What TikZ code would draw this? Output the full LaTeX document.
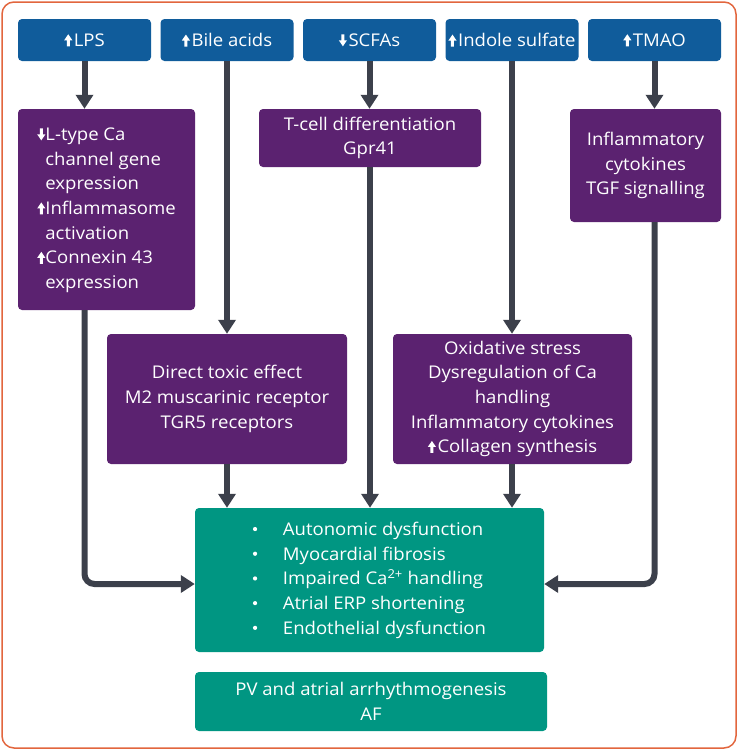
\documentclass[tikz,border=0pt]{standalone}
\usepackage{fontspec}
\setmainfont{Open Sans}[FakeStretch=1.06]
\usetikzlibrary{arrows.meta}
\definecolor{cblue}{HTML}{105C9B}
\definecolor{cpurple}{HTML}{5B2270}
\definecolor{cgreen}{HTML}{009682}
\definecolor{cline}{HTML}{3C404B}
\definecolor{cframe}{HTML}{E2663E}
\newcommand\upa{\tikz[baseline=0pt,x=1pt,y=1pt,sharp corners]\fill[white] (2.6,0)--(5.6,0)--(5.6,6)--(8.2,6)--(4.1,12)--(0,6)--(2.6,6)--cycle;\hspace{1.5pt}}
\newcommand\dna{\tikz[baseline=0pt,x=1pt,y=1pt,sharp corners]\fill[white] (2.6,12)--(5.6,12)--(5.6,6)--(8.2,6)--(4.1,0)--(0,6)--(2.6,6)--cycle;\hspace{1.5pt}}
\newcommand\bul{\tikz[baseline=0pt,x=1pt,y=1pt]\fill[white] (2.2,6.5) circle (2.1);}
\begin{document}
\begin{tikzpicture}[x=1pt,y=-1pt,
  box/.style={rounded corners=4pt, text=white, align=center, inner sep=0pt,
    font=\fontsize{17.5}{24.7}\selectfont},
  topbox/.style={box, fill=cblue, minimum width=133, minimum height=42},
  midbox/.style={box, fill=cpurple},
  endbox/.style={box, fill=cgreen},
  conn/.style={draw=cline, line width=6pt, -{Triangle[width=17pt,length=14pt]}}]
\useasboundingbox (0,0) rectangle (738,750);
\draw[cframe, line width=1.5pt, rounded corners=12pt] (2,2) rectangle (736,748);

% top row
\node[topbox] (lps)    at (84.5,40)  {\upa LPS};
\node[topbox] (bile)   at (227,40)   {\upa Bile acids};
\node[topbox] (scfa)   at (369.5,40) {\dna SCFAs};
\node[topbox] (indole) at (512,40)   {\upa Indole sulfate};
\node[topbox] (tmao)   at (654.5,40) {\upa TMAO};

% middle boxes
\node[midbox, minimum width=177, minimum height=201] (box1) at (106.5,209.5)
  {\begin{tabular}{@{}l@{}l@{}}
   \dna & L-type Ca\\
        & channel gene\\
        & expression\\
   \upa & Inflammasome\\
        & activation\\
   \upa & Connexin 43\\
        & expression
   \end{tabular}};
\node[midbox, minimum width=222, minimum height=58] (tcell) at (370,138)
  {T-cell differentiation\\Gpr41};
\node[midbox, minimum width=151, minimum height=113] (tmaobox) at (645.5,165.5)
  {Inflammatory\\cytokines\\TGF signalling};
\node[midbox, minimum width=240, minimum height=130] (direct) at (227,399)
  {Direct toxic effect\\M2 muscarinic receptor\\TGR5 receptors};
\node[midbox, minimum width=239, minimum height=130] (oxid) at (512.5,399)
  {Oxidative stress\\Dysregulation of Ca\\handling\\Inflammatory cytokines\\\upa Collagen synthesis};

% outcome boxes
\node[endbox, minimum width=349, minimum height=144] (green) at (369.5,580)
  {\begin{tabular}{@{}p{30pt}@{}l@{}}
   \bul & Autonomic dysfunction\\
   \bul & Myocardial fibrosis\\
   \bul & Impaired Ca\textsuperscript{2+} handling\\
   \bul & Atrial ERP shortening\\
   \bul & Endothelial dysfunction
   \end{tabular}};
\node[endbox, minimum width=352, minimum height=59] (pv) at (371,701.5)
  {PV and atrial arrhythmogenesis\\AF};

% connectors
\draw[conn] (lps.south) -- (lps.south |- box1.north);
\draw[conn] (bile.south) -- (bile.south |- direct.north);
\draw[conn] (scfa.south) -- (scfa.south |- tcell.north);
\draw[conn] (indole.south) -- (indole.south |- oxid.north);
\draw[conn] (tmao.south) -- (tmao.south |- tmaobox.north);

\draw[conn, rounded corners=10pt] (lps.south |- box1.south) |- ([yshift=-4pt]green.west);
\draw[conn] (bile.south |- direct.south) -- (bile.south |- green.north);
\draw[conn] (tcell.south) -- (tcell.south |- green.north);
\draw[conn] (indole.south |- oxid.south) -- (indole.south |- green.north);
\draw[conn, rounded corners=10pt] (tmao.south |- tmaobox.south) |- ([yshift=-4pt]green.east);
\end{tikzpicture}
\end{document}
